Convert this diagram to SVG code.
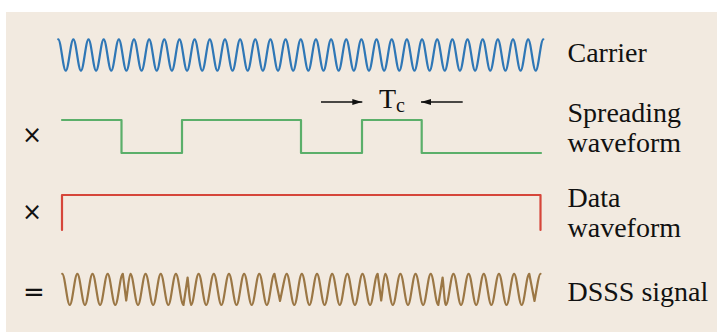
<svg xmlns="http://www.w3.org/2000/svg" width="717" height="332" viewBox="0 0 717 332">
<defs>
<style>
.wave{fill:none;stroke-width:2.2;stroke-linejoin:round;stroke-linecap:round}
.lbl{font-family:"Liberation Serif","Times New Roman",serif;font-size:28px;fill:#111}
.op{font-family:"DejaVu Sans","Liberation Sans",sans-serif;fill:#111}
.dim{stroke:#111;stroke-width:1.3;fill:none}
</style>
<marker id="ah" viewBox="0 0 10 6" refX="10" refY="3" markerWidth="10" markerHeight="6" markerUnits="userSpaceOnUse" orient="auto">
<path d="M0,0 L10,3 L0,6 z" fill="#111"/>
</marker>
</defs>
<rect x="0" y="0" width="717" height="332" fill="#ffffff"/>
<rect x="6" y="12" width="711" height="320" fill="#F2EAE0"/>

<g id="carrier">
<path class="wave" stroke="#2F77B6" d="M58.2,39.3 c2.755,0 4.825,31.4 7.58,31.4
s4.825,-31.4 7.58,-31.4 s4.825,31.4 7.58,31.4 s4.825,-31.4 7.58,-31.4 s4.825,31.4 7.58,31.4 s4.825,-31.4 7.58,-31.4 s4.825,31.4 7.58,31.4 s4.825,-31.4 7.58,-31.4 s4.825,31.4 7.58,31.4
s4.825,-31.4 7.58,-31.4 s4.825,31.4 7.58,31.4 s4.825,-31.4 7.58,-31.4 s4.825,31.4 7.58,31.4 s4.825,-31.4 7.58,-31.4 s4.825,31.4 7.58,31.4 s4.825,-31.4 7.58,-31.4 s4.825,31.4 7.58,31.4
s4.825,-31.4 7.58,-31.4 s4.825,31.4 7.58,31.4 s4.825,-31.4 7.58,-31.4 s4.825,31.4 7.58,31.4 s4.825,-31.4 7.58,-31.4 s4.825,31.4 7.58,31.4 s4.825,-31.4 7.58,-31.4 s4.825,31.4 7.58,31.4
s4.825,-31.4 7.58,-31.4 s4.825,31.4 7.58,31.4 s4.825,-31.4 7.58,-31.4 s4.825,31.4 7.58,31.4 s4.825,-31.4 7.58,-31.4 s4.825,31.4 7.58,31.4 s4.825,-31.4 7.58,-31.4 s4.825,31.4 7.58,31.4
s4.825,-31.4 7.58,-31.4 s4.825,31.4 7.58,31.4 s4.825,-31.4 7.58,-31.4 s4.825,31.4 7.58,31.4 s4.825,-31.4 7.58,-31.4 s4.825,31.4 7.58,31.4 s4.825,-31.4 7.58,-31.4 s4.825,31.4 7.58,31.4
s4.825,-31.4 7.58,-31.4 s4.825,31.4 7.58,31.4 s4.825,-31.4 7.58,-31.4 s4.825,31.4 7.58,31.4 s4.825,-31.4 7.58,-31.4 s4.825,31.4 7.58,31.4 s4.825,-31.4 7.58,-31.4 s4.825,31.4 7.58,31.4
s4.825,-31.4 7.58,-31.4 s4.825,31.4 7.58,31.4 s4.825,-31.4 7.58,-31.4 s4.825,31.4 7.58,31.4 s4.825,-31.4 7.58,-31.4 s4.825,31.4 7.58,31.4 s4.825,-31.4 7.58,-31.4 s4.825,31.4 7.58,31.4
s4.825,-31.4 7.58,-31.4 s4.825,31.4 7.58,31.4 s4.825,-31.4 7.58,-31.4 s4.825,31.4 7.58,31.4 s4.825,-31.4 7.58,-31.4 s4.825,31.4 7.58,31.4
s4.825,-31.4 7.58,-31.4"/>
<text class="lbl" x="567.5" y="62.3">Carrier</text>
</g>

<g id="spreading">
<path class="wave" stroke="#5BAF6A" stroke-width="2" stroke-linecap="butt" stroke-linejoin="miter" d="M62,120 H121.5 V153 H182 V120 H301 V153 H362 V120 H421.7 V153 H541"/>
<text class="lbl" x="567.5" y="121.5">Spreading</text>
<text class="lbl" x="567.5" y="151.5">waveform</text>
</g>

<g id="data">
<path class="wave" stroke="#D6463A" stroke-linecap="butt" stroke-linejoin="miter" d="M62,230 V195 H540.5 V230"/>
<text class="lbl" x="567.5" y="207.2">Data</text>
<text class="lbl" x="567.5" y="237">waveform</text>
</g>

<g id="dsss">
<path class="wave" stroke="#9B7745" d="M62.2,273.8 c2.755,0 4.825,31.2 7.58,31.2
s4.825,-31.2 7.58,-31.2 s4.825,31.2 7.58,31.2 s4.825,-31.2 7.58,-31.2 s4.825,31.2 7.58,31.2 s4.825,-31.2 7.58,-31.2 s4.825,31.2 7.58,31.2 s4.825,-31.2 7.58,-31.2
L126.2,300.5 C127.8,290 129.1,273.8 130.42,273.8
c2.755,0 4.825,31.2 7.58,31.2
s4.825,-31.2 7.58,-31.2 s4.825,31.2 7.58,31.2 s4.825,-31.2 7.58,-31.2 s4.825,31.2 7.58,31.2 s4.825,-31.2 7.58,-31.2 s4.825,31.2 7.58,31.2
L187.6,277.5 C188.9,288 189.8,305 191.06,305
c2.755,0 4.825,-31.2 7.58,-31.2
s4.825,31.2 7.58,31.2 s4.825,-31.2 7.58,-31.2 s4.825,31.2 7.58,31.2 s4.825,-31.2 7.58,-31.2 s4.825,31.2 7.58,31.2 s4.825,-31.2 7.58,-31.2 s4.825,31.2 7.58,31.2 s4.825,-31.2 7.58,-31.2 s4.825,31.2 7.58,31.2 s4.825,-31.2 7.58,-31.2
L280,301 C282.5,290 285,273.8 286.7,273.8
c2.755,0 4.825,31.2 7.58,31.2
s4.825,-31.2 7.58,-31.2 s4.825,31.2 7.58,31.2 s4.825,-31.2 7.58,-31.2 s4.825,31.2 7.58,31.2 s4.825,-31.2 7.58,-31.2 s4.825,31.2 7.58,31.2 s4.825,-31.2 7.58,-31.2 s4.825,31.2 7.58,31.2 s4.825,-31.2 7.58,-31.2 s4.825,31.2 7.58,31.2 s4.825,-31.2 7.58,-31.2
L381.2,300.5 C382.7,290 383.9,273.8 385.24,273.8
c2.755,0 4.825,31.2 7.58,31.2
s4.825,-31.2 7.58,-31.2 s4.825,31.2 7.58,31.2 s4.825,-31.2 7.58,-31.2 s4.825,31.2 7.58,31.2 s4.825,-31.2 7.58,-31.2 s4.825,31.2 7.58,31.2
L442.6,277.5 C443.9,288 444.6,305 445.88,305
c2.755,0 4.825,-31.2 7.58,-31.2
s4.825,31.2 7.58,31.2 s4.825,-31.2 7.58,-31.2 s4.825,31.2 7.58,31.2 s4.825,-31.2 7.58,-31.2 s4.825,31.2 7.58,31.2 s4.825,-31.2 7.58,-31.2 s4.825,31.2 7.58,31.2 s4.825,-31.2 7.58,-31.2 s4.825,31.2 7.58,31.2 s4.825,-31.2 7.58,-31.2
L534.5,301 C536.5,290 538.8,273.8 540.5,273.8"/>
<text class="lbl" x="567.5" y="300.5">DSSS signal</text>
</g>

<g id="operators">
<text class="op" x="32" y="143" font-size="24" text-anchor="middle">×</text>
<text class="op" x="32" y="219.7" font-size="24" text-anchor="middle">×</text>
<text class="op" x="34" y="300.5" font-size="26" text-anchor="middle">=</text>
</g>

<g id="connectors">
<line class="dim" x1="321" y1="102" x2="362.3" y2="102" marker-end="url(#ah)"/>
<line class="dim" x1="462.7" y1="102" x2="421" y2="102" marker-end="url(#ah)"/>
</g>

<g id="chip-label">
<text class="lbl" x="379" y="107.7" font-size="26">T<tspan font-size="20" dy="4">c</tspan></text>
</g>
</svg>
